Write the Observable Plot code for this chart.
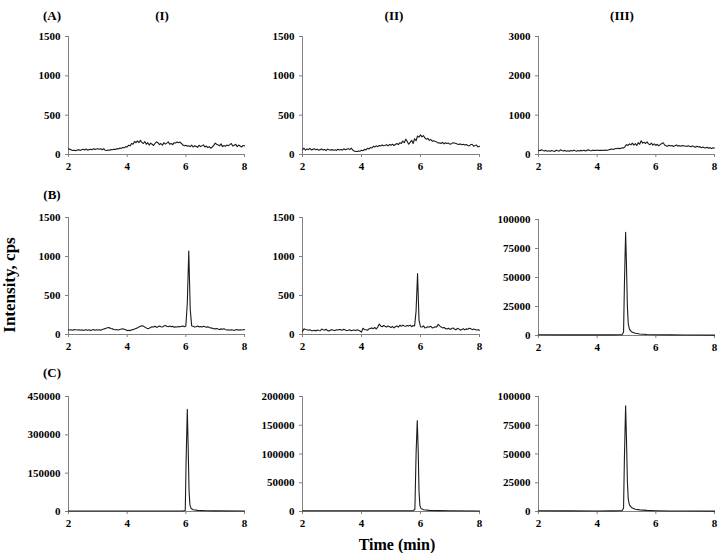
<!DOCTYPE html>
<html>
<head>
<meta charset="utf-8">
<script src="https://cdn.jsdelivr.net/npm/d3@7"></script>
<script src="https://cdn.jsdelivr.net/npm/@observablehq/plot@0.6"></script>
<style>
  html, body { margin: 0; padding: 0; background: #fff; }
  #fig { position: relative; width: 722px; height: 553px; overflow: hidden;
         font-family: "Liberation Serif", "Times New Roman", serif; font-weight: bold; color: #000; }
  .panel { position: absolute; }
  .lbl { position: absolute; transform: translate(-50%, -50%); white-space: nowrap; }
</style>
</head>
<body>
<div id="fig"></div>
<script>
// Sampling grid (min) for the noisy traces: 2.00 … 8.00 every 0.05 min
const grid = d3.range(121).map(i => +(2 + i * 0.05).toFixed(2));

// (A) blank samples
const blankI = [
  72, 65, 58, 50, 55, 48, 58, 62, 52, 60,
  66, 58, 70, 55, 62, 68, 60, 72, 65, 70,
  74, 66, 72, 60, 75, 55, 50, 58, 54, 62,
  60, 68, 64, 75, 70, 82, 78, 90, 85, 100,
  95, 118, 110, 140, 130, 165, 150, 172, 150, 180,
  155, 140, 165, 130, 150, 120, 145, 130, 115, 140,
  160, 150, 125, 140, 118, 150, 132, 145, 160, 130,
  140, 125, 150, 145, 160, 150, 158, 140, 120, 110,
  118, 105, 112, 100, 120, 95, 110, 105, 90, 118,
  100, 110, 122, 95, 108, 88, 100, 80, 95, 115,
  145, 130, 120, 110, 135, 100, 115, 105, 120, 112,
  125, 140, 108, 118, 130, 100, 120, 108, 95, 115,
  110
];
const blankII = [
  60, 80, 55, 70, 62, 78, 58, 65, 72, 60,
  68, 55, 62, 70, 58, 64, 50, 68, 60, 56,
  62, 55, 60, 52, 66, 58, 63, 55, 72, 60,
  68, 75, 62, 80, 58, 45, 40, 38, 45, 42,
  55, 48, 65, 58, 78, 70, 88, 82, 105, 95,
  110, 100, 115, 108, 122, 112, 118, 125, 110, 128,
  118, 130, 115, 128, 140, 125, 150, 140, 170, 150,
  195, 165, 130, 155, 180, 140, 200, 175, 235, 220,
  250, 225, 240, 210, 195, 205, 180, 190, 170, 175,
  165, 160, 145, 150, 140, 155, 135, 150, 140, 145,
  130, 138, 150, 145, 140, 132, 128, 135, 125, 130,
  120, 128, 115, 110, 125, 130, 105, 115, 120, 95,
  105
];
const blankIII = [
  110, 95, 120, 100, 90, 105, 85, 95, 80, 100,
  90, 75, 110, 95, 85, 120, 100, 90, 105, 85,
  95, 80, 100, 90, 110, 95, 85, 100, 90, 105,
  95, 110, 90, 105, 120, 100, 95, 110, 105, 100,
  115, 100, 105, 110, 100, 115, 105, 110, 120, 130,
  140, 125, 150, 145, 160, 150, 155, 170, 165, 200,
  250, 230, 270, 245, 290, 240, 275, 230, 300, 260,
  350, 290, 310, 280, 320, 270, 250, 290, 240, 270,
  230, 260, 220, 250, 280, 300, 240, 220, 210, 235,
  215, 230, 205, 220, 240, 215, 225, 210, 230, 220,
  215, 205, 225, 210, 195, 220, 200, 185, 210, 190,
  200, 170, 190, 175, 165, 185, 160, 175, 150, 170,
  165
];

// (B) low-level samples
const lowI = [
  62, 58, 60, 55, 65, 60, 58, 62, 55, 60,
  52, 58, 62, 55, 60, 50, 58, 65, 55, 60,
  58, 62, 55, 65, 70, 75, 82, 90, 85, 78,
  72, 65, 60, 62, 58, 65, 70, 72, 68, 60,
  50, 55, 48, 60, 62, 70, 78, 85, 95, 105,
  112, 108, 95, 85, 75, 80, 90, 100, 95, 105,
  92, 98, 108, 100, 95, 110, 115, 105, 100, 108,
  98, 105, 92, 100, 95, 102, 98, 105, 110, 100,
  110, 400, 1070, 320, 110, 105, 95, 100, 108, 98,
  102, 95, 105, 100, 92, 98, 90, 85, 80, 75,
  72, 78, 70, 65, 72, 68, 75, 62, 58, 60,
  55, 62, 58, 52, 60, 65, 55, 62, 58, 60,
  62
];
const lowII = [
  40, 72, 65, 60, 55, 62, 50, 48, 55, 45,
  58, 52, 48, 70, 62, 55, 68, 50, 45, 58,
  62, 55, 50, 60, 58, 65, 62, 55, 68, 58,
  50, 55, 62, 48, 55, 58, 50, 62, 55, 45,
  30, 80, 65, 60, 55, 70, 78, 85, 75, 90,
  70, 95, 135, 110, 100, 115, 105, 95, 110, 100,
  90, 105, 85, 100, 110, 95, 118, 105, 120, 110,
  105, 115, 108, 120, 100, 115, 110, 300, 780, 180,
  100, 95, 110, 85, 90, 100, 95, 105, 85, 90,
  100, 95, 130, 110, 95, 85, 90, 75, 70, 80,
  65, 75, 85, 70, 60, 80, 72, 55, 65, 75,
  60, 72, 68, 80, 75, 62, 70, 65, 58, 62,
  55
];
const lowIIITime = [2, 3, 4, 4.5, 4.85, 4.9, 4.93, 4.97, 5.0, 5.03, 5.06, 5.1, 5.15, 5.2, 5.3, 5.45, 5.7, 6, 6.5, 7, 8];
const lowIII = [600, 550, 500, 550, 700, 3000, 45000, 89000, 60000, 25000, 10000, 5500, 3800, 2800, 1900, 1300, 900, 700, 500, 400, 300];

// (C) high-level samples
const highITime = [2, 3, 4, 5, 5.9, 5.98, 6.01, 6.05, 6.08, 6.11, 6.14, 6.18, 6.25, 6.4, 6.7, 7, 8];
const highI = [2000, 2000, 2000, 2000, 2200, 4000, 200000, 400000, 250000, 80000, 25000, 12000, 7000, 4500, 3000, 2500, 2000];
const highIITime = [2, 3, 4, 5, 5.75, 5.81, 5.85, 5.89, 5.92, 5.95, 5.98, 6.02, 6.1, 6.3, 6.6, 7, 8];
const highII = [1200, 1200, 1200, 1300, 1500, 4000, 100000, 158000, 110000, 35000, 10000, 5000, 3000, 2000, 1500, 1200, 1000];
const highIIITime = [2, 3, 4, 4.5, 4.85, 4.9, 4.93, 4.97, 5.0, 5.03, 5.06, 5.1, 5.15, 5.2, 5.3, 5.45, 5.7, 6, 6.5, 7, 8];
const highIII = [600, 550, 500, 550, 700, 3000, 48000, 92000, 62000, 26000, 10500, 5800, 4000, 3000, 2000, 1400, 950, 700, 500, 400, 300];

// Axis ticks
const xTicks = [2, 4, 6, 8];
const ticks1500 = [0, 500, 1000, 1500];
const ticks3000 = [0, 1000, 2000, 3000];
const ticks100k = [0, 25000, 50000, 75000, 100000];
const ticks450k = [0, 150000, 300000, 450000];
const ticks200k = [0, 50000, 100000, 150000, 200000];

// Text
const rowLabels = ["(A)", "(B)", "(C)"];
const colLabels = ["(I)", "(II)", "(III)"];
const yTitle = "Intensity, cps";
const xTitle = "Time (min)";

// Layout of the 3 × 3 grid (pixel frame of each plotting area)
const colX = [68, 302, 538];
const colW = [176, 177, 176];
const rowFrame = [[36, 154], [217, 334], [396, 511]];

const panels = [
  {r: 0, c: 0, t: grid, v: blankI, yMax: 1500, yTicks: ticks1500},
  {r: 0, c: 1, t: grid, v: blankII, yMax: 1500, yTicks: ticks1500},
  {r: 0, c: 2, t: grid, v: blankIII, yMax: 3000, yTicks: ticks3000},
  {r: 1, c: 0, t: grid, v: lowI, yMax: 1500, yTicks: ticks1500},
  {r: 1, c: 1, t: grid, v: lowII, yMax: 1500, yTicks: ticks1500},
  {r: 1, c: 2, t: lowIIITime, v: lowIII, yMax: 100000, yTicks: ticks100k, frame: [219, 335]},
  {r: 2, c: 0, t: highITime, v: highI, yMax: 450000, yTicks: ticks450k},
  {r: 2, c: 1, t: highIITime, v: highII, yMax: 200000, yTicks: ticks200k},
  {r: 2, c: 2, t: highIIITime, v: highIII, yMax: 100000, yTicks: ticks100k}
];

const fig = document.getElementById("fig");
const mL = 50, mR = 6, mT = 8, mB = 22;
const axisGray = "#808080";

for (const p of panels) {
  const [top, bottom] = p.frame || rowFrame[p.r];
  const w = colW[p.c];
  const data = p.t.map((t, i) => ({t, v: p.v[i]}));
  const chart = Plot.plot({
    width: mL + w + mR,
    height: mT + (bottom - top) + mB,
    marginLeft: mL, marginRight: mR, marginTop: mT, marginBottom: mB,
    style: {fontFamily: '"Liberation Serif", "Times New Roman", serif', fontWeight: "bold",
            fontSize: "11px", color: "#000", background: "transparent", overflow: "visible"},
    x: {domain: [2, 8]},
    y: {domain: [0, p.yMax]},
    marks: [
      Plot.ruleY([0], {stroke: axisGray, strokeWidth: 1}),
      Plot.ruleX([2], {stroke: axisGray, strokeWidth: 1}),
      Plot.axisX({ticks: xTicks, tickSize: 3, tickPadding: 5, label: null,
                  tickFormat: d => String(d), stroke: axisGray, fill: "#000"}),
      Plot.axisY({ticks: p.yTicks, tickSize: 3, tickPadding: 5, label: null,
                  tickFormat: d => String(d), stroke: axisGray, fill: "#000"}),
      Plot.line(data, {x: "t", y: "v", stroke: "#1c1c1c", strokeWidth: 1.1})
    ]
  });
  chart.classList.add("panel");
  chart.style.left = (colX[p.c] - mL) + "px";
  chart.style.top = (top - mT) + "px";
  fig.appendChild(chart);
}

function label(text, x, y, size, rotate) {
  const d = document.createElement("div");
  d.className = "lbl";
  d.textContent = text;
  d.style.left = x + "px";
  d.style.top = y + "px";
  d.style.fontSize = size + "px";
  if (rotate) d.style.transform = "translate(-50%, -50%) rotate(-90deg)";
  fig.appendChild(d);
}

label(rowLabels[0], 52, 16, 13);
label(rowLabels[1], 52, 195, 13);
label(rowLabels[2], 52, 373, 13);
label(colLabels[0], 162, 16, 13);
label(colLabels[1], 394, 16, 13);
label(colLabels[2], 622, 16, 13);
label(yTitle, 10, 285, 17, true);
label(xTitle, 397, 545, 16);
</script>
</body>
</html>
